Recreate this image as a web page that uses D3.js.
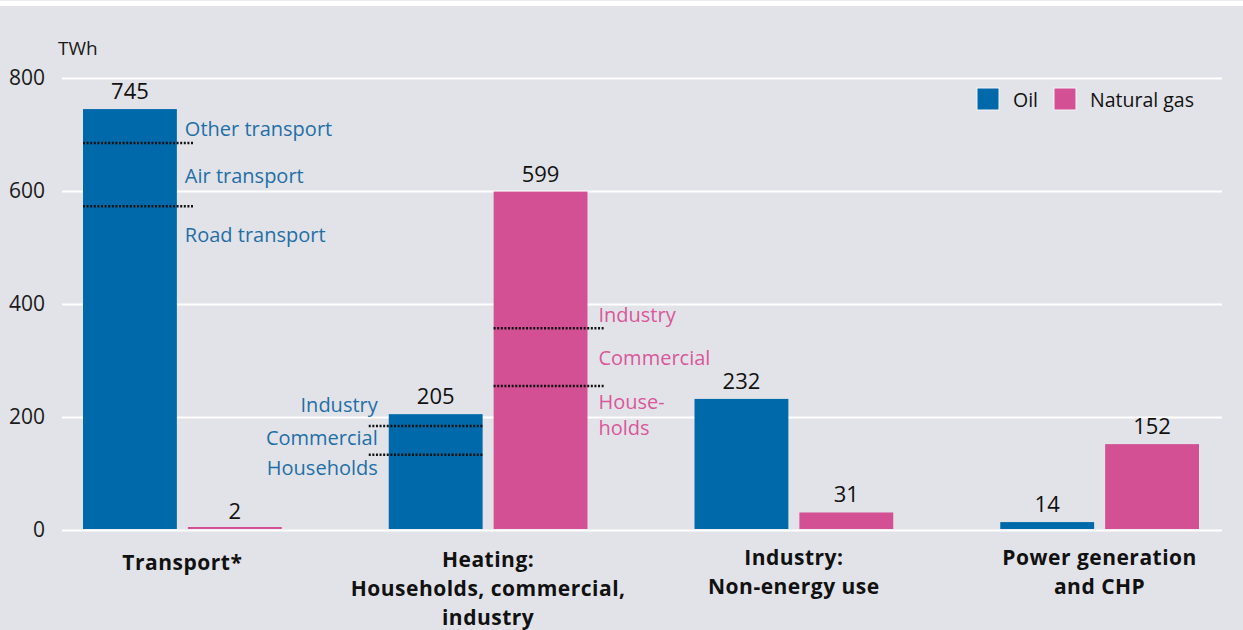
<!DOCTYPE html>
<html>
<head>
<meta charset="utf-8">
<script src="https://cdn.jsdelivr.net/npm/d3@7"></script>
<style>
  html, body { margin: 0; padding: 0; background: #e2e3e8; }
  svg { display: block; font-family: "Open Sans", "Noto Sans", sans-serif; }
</style>
</head>
<body>
<svg id="chart" width="1243" height="630"></svg>
<script>
// ---- data ----
const categories = ["Transport*", "Heating:\nHouseholds, commercial,\nindustry", "Industry:\nNon-energy use", "Power generation\nand CHP"];
const seriesNames = ["Oil", "Natural gas"];
const oilValues = [745, 205, 232, 14];
const gasValues = [2, 599, 31, 152];
const yTicks = [0, 200, 400, 600, 800];
const unitLabel = "TWh";
// breakdown dividers (cumulative values) and labels
const transportOilDividers = [573, 685];
const transportOilLabels = ["Other transport", "Air transport", "Road transport"];
const heatingOilDividers = [133, 184];
const heatingOilLabels = ["Industry", "Commercial", "Households"];
const heatingGasDividers = [255, 357];
const heatingGasLabels = ["Industry", "Commercial", "House-", "holds"];

const colors = { oil: "#0069aa", gas: "#d45095", oilText: "#1f6fa6", gasText: "#d9579b" };

const svg = d3.select("#chart");
const W = 1243, H = 630;

// background & top strip
svg.append("rect").attr("width", W).attr("height", H).attr("fill", "#e2e3e8");
svg.append("rect").attr("x", 0).attr("y", 0).attr("width", W).attr("height", 6).attr("fill", "#ffffff");
svg.append("rect").attr("x", 0).attr("y", 0).attr("width", W).attr("height", 1).attr("fill", "#ececef");

const y = d3.scaleLinear().domain([0, 800]).range([530, 78]);
const x0 = d3.scaleBand().domain(categories).range([83, 1199]).paddingInner(0.35).paddingOuter(0);
const x1 = d3.scaleBand().domain(seriesNames).range([0, x0.bandwidth()]).paddingInner(0.105).paddingOuter(0);

// gridlines
svg.append("g").selectAll("line").data(yTicks).join("line")
  .attr("x1", 62).attr("x2", 1222)
  .attr("y1", d => y(d) + 0.5).attr("y2", d => y(d) + 0.5)
  .attr("stroke", "#ffffff").attr("stroke-width", 2);

// y tick labels
svg.append("g").selectAll("text").data(yTicks).join("text")
  .attr("x", 45).attr("y", d => y(d))
  .attr("dy", "0.35em").attr("text-anchor", "end")
  .attr("font-size", 21).attr("fill", "#1a1a1a")
  .text(d => d);

svg.append("text").attr("x", 58).attr("y", 48).attr("dy", "0.35em")
  .attr("font-size", 19).attr("fill", "#1a1a1a").text(unitLabel);

// bars
const rows = categories.map((c, i) => ({ cat: c, vals: [
  { s: "Oil", v: oilValues[i], color: colors.oil },
  { s: "Natural gas", v: gasValues[i], color: colors.gas }
]}));

const groups = svg.append("g").selectAll("g").data(rows).join("g")
  .attr("transform", d => `translate(${x0(d.cat)},0)`);

const barBottom = y(0) - 1;
groups.selectAll("rect").data(d => d.vals).join("rect")
  .attr("x", d => x1(d.s)).attr("width", x1.bandwidth())
  .attr("y", d => Math.min(y(d.v), barBottom - 2))
  .attr("height", d => Math.max(2, barBottom - y(d.v)))
  .attr("fill", d => d.color);

groups.selectAll("text.val").data(d => d.vals).join("text")
  .attr("class", "val")
  .attr("x", d => x1(d.s) + x1.bandwidth() / 2)
  .attr("y", d => y(d.v) - 10)
  .attr("text-anchor", "middle").attr("font-size", 22).attr("fill", "#111")
  .text(d => d.v);

// category labels
const catLabelTop = [563, 560, 558, 558];
const catLinePitch = 29;
svg.append("g").selectAll("text").data(categories).join("text")
  .attr("text-anchor", "middle").attr("font-size", 21).attr("font-weight", "bold")
  .attr("letter-spacing", 0.5).attr("fill", "#111")
  .attr("x", d => x0(d) + x0.bandwidth() / 2)
  .attr("y", (d, i) => catLabelTop[i])
  .each(function (d) {
    const t = d3.select(this);
    d.split("\n").forEach((line, k) => {
      t.append("tspan").attr("x", t.attr("x")).attr("dy", k === 0 ? "0.35em" : catLinePitch).text(line);
    });
  });

// dividers
function dividers(cat, series, vals, extendLeft, extendRight) {
  const bx = x0(cat) + x1(series);
  svg.append("g").selectAll("line").data(vals).join("line")
    .attr("x1", bx - extendLeft).attr("x2", bx + x1.bandwidth() + extendRight)
    .attr("y1", d => y(d)).attr("y2", d => y(d))
    .attr("stroke", "#111").attr("stroke-width", 2.5).attr("stroke-dasharray", "2,1.6");
}
dividers(categories[0], "Oil", transportOilDividers, 0, 17);
dividers(categories[1], "Oil", heatingOilDividers, 20, 0);
dividers(categories[1], "Natural gas", heatingGasDividers, 0, 17);

// breakdown labels
function labels(items, xPos, ys, anchor, color) {
  svg.append("g").selectAll("text").data(items).join("text")
    .attr("x", xPos).attr("y", (d, i) => ys[i]).attr("dy", "0.35em")
    .attr("text-anchor", anchor).attr("font-size", 20).attr("fill", color)
    .text(d => d);
}
const tBarRight = x0(categories[0]) + x1("Oil") + x1.bandwidth();
labels(transportOilLabels, tBarRight + 8, [y(745) + 20, y(626), y(522)], "start", colors.oilText);
const hOilLeft = x0(categories[1]) + x1("Oil");
labels(heatingOilLabels, hOilLeft - 11, [y(222), y(163), y(110)], "end", colors.oilText);
const hGasRight = x0(categories[1]) + x1("Natural gas") + x1.bandwidth();
labels(heatingGasLabels, hGasRight + 11, [y(381), y(304), y(226), y(180)], "start", colors.gasText);

// legend
const legend = svg.append("g").attr("transform", "translate(977,88)");
const legItems = [{ s: seriesNames[0], c: colors.oil, x: 0, tx: 36 }, { s: seriesNames[1], c: colors.gas, x: 77, tx: 113 }];
legend.selectAll("rect").data(legItems).join("rect")
  .attr("x", d => d.x).attr("y", 0).attr("width", 22).attr("height", 22)
  .attr("fill", d => d.c).attr("stroke", "#f4f4f6").attr("stroke-width", 1);
legend.selectAll("text").data(legItems).join("text")
  .attr("x", d => d.tx).attr("y", 12).attr("dy", "0.35em")
  .attr("font-size", 19.5).attr("fill", "#111").text(d => d.s);
</script>
</body>
</html>
